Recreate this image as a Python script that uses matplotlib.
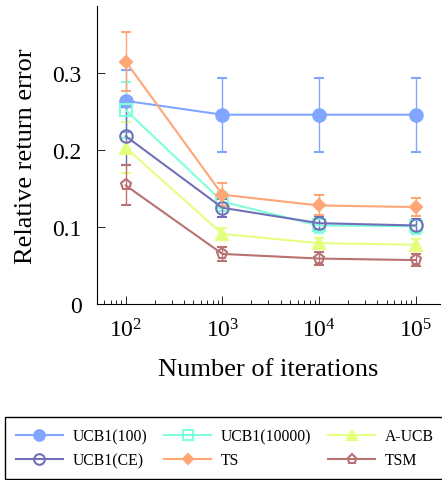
import numpy as np
import matplotlib
matplotlib.use('Agg')
import matplotlib.pyplot as plt
from matplotlib.lines import Line2D

iters = [1e2, 1e3, 1e4, 1e5]

names = ['UCB1(100)', 'UCB1(10000)', 'A-UCB', 'UCB1(CE)', 'TS', 'TSM']
colors = ['#80a6ff', '#80ffdc', '#e4ff80', '#7070b8', '#ffa676', '#b87272']
markers = ['o', 's', '^', 'o', 'D', 'p']
filled = [True, False, True, False, True, False]
sizes = [9, 8, 8, 9, 6.5, 8]

means = [
    [0.264, 0.246, 0.246, 0.246],
    [0.252, 0.133, 0.102, 0.101],
    [0.203, 0.091, 0.079, 0.077],
    [0.218, 0.125, 0.105, 0.102],
    [0.315, 0.142, 0.128, 0.126],
    [0.154, 0.065, 0.059, 0.057],
]
errs = [
    [0.040, 0.048, 0.048, 0.048],
    [0.036, 0.012, 0.010, 0.010],
    [0.033, 0.008, 0.007, 0.007],
    [0.038, 0.012, 0.009, 0.009],
    [0.038, 0.015, 0.013, 0.012],
    [0.026, 0.009, 0.008, 0.008],
]

plt.rcParams['font.family'] = ['Liberation Serif', 'DejaVu Serif']
plt.rcParams['mathtext.fontset'] = 'stix'

fig = plt.figure(figsize=(4.42, 4.81), dpi=100)
ax = fig.add_axes([0.219, 0.366, 0.776, 0.619])

handles = []
for i in range(len(names)):
    c = colors[i]
    ax.errorbar(iters, means[i], yerr=errs[i], color=c, lw=1.5,
                marker=markers[i], ms=sizes[i],
                mfc=c if filled[i] else 'none', mec=c, mew=1.5,
                capsize=3.5, elinewidth=1.0, capthick=1.0)
    handles.append(Line2D([], [], color=c, lw=1.5, marker=markers[i],
                          ms=sizes[i], mfc=c if filled[i] else 'none',
                          mec=c, mew=1.5))

ax.set_xscale('log')
ax.set_xlim(10**1.7, 10**5.25)
ax.set_ylim(0, 0.387)
ax.set_xticks(iters)
ax.set_yticks([0, 0.1, 0.2, 0.3])
ax.set_yticklabels(['0', '0.1', '0.2', '0.3'])
ax.tick_params(direction='in', labelsize=17, length=6, width=0.6)
ax.tick_params(axis='y', pad=11)
ax.tick_params(axis='x', pad=10.5)
ax.tick_params(which='minor', direction='in', length=3, width=0.6)
ax.yaxis.set_minor_locator(matplotlib.ticker.NullLocator())
for s in ['top', 'right']:
    ax.spines[s].set_visible(False)
ax.set_xlabel('Number of iterations', fontsize=19, labelpad=11.5)
ax.set_ylabel('Relative return error', fontsize=19, labelpad=11)

order = [0, 3, 1, 4, 2, 5]
fig.legend([handles[k] for k in order], [names[k] for k in order],
           ncol=3, loc='lower left', mode='expand',
           bbox_to_anchor=(0.011, 0.002, 0.995, 0.13),
           fontsize=11.3, fancybox=False, edgecolor='black', framealpha=1,
           handlelength=3, handletextpad=0.6, markerscale=0.85,
           borderaxespad=0, labelspacing=0.5, borderpad=0.7)

fig.savefig('out.png', dpi=100)
